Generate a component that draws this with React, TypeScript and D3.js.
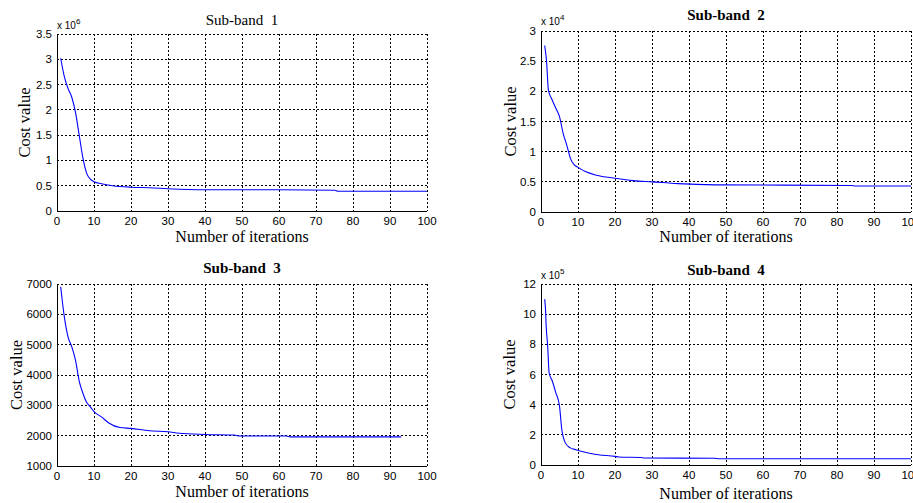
import React from "react";
import * as d3 from "d3";

// ---- data ----
const iter1 = [1, 2, 3, 4, 5, 6, 7, 8, 9, 10, 12, 15, 20, 25, 30, 40, 50, 60, 75, 76, 100];
const cost1 = [3.02, 2.65, 2.42, 2.25, 1.95, 1.5, 1.05, 0.75, 0.63, 0.58, 0.54, 0.5, 0.47, 0.46, 0.44, 0.42, 0.42, 0.42, 0.41, 0.39, 0.39]; // x 1e6

const iter2 = [1, 1.5, 2, 3, 4, 5, 6, 7, 8, 9, 10, 12, 15, 20, 25, 30, 37, 47, 84, 85, 100];
const cost2 = [2.76, 2.5, 2.02, 1.86, 1.72, 1.58, 1.3, 1.1, 0.88, 0.78, 0.74, 0.67, 0.61, 0.56, 0.52, 0.5, 0.47, 0.45, 0.44, 0.43, 0.43]; // x 1e4

const iter3 = [1, 2, 3, 4, 5, 6, 7, 8, 9, 10, 12, 14, 17, 20, 25, 30, 33, 40, 48, 49, 62, 63, 93];
const cost3 = [6910, 5900, 5250, 4930, 4490, 3800, 3400, 3100, 2950, 2790, 2620, 2420, 2270, 2240, 2160, 2130, 2080, 2040, 2020, 1990, 1990, 1960, 1960];

const iter4 = [1, 1.2, 1.4, 1.8, 2.2, 3, 4, 5, 5.6, 6.5, 7.8, 9.6, 12.8, 15.5, 20, 21, 27, 28, 47, 48, 100];
const cost4 = [11.0, 10.4, 9.2, 7.9, 6.1, 5.6, 4.8, 3.9, 2.4, 1.5, 1.15, 1.0, 0.8, 0.68, 0.57, 0.53, 0.5, 0.46, 0.45, 0.41, 0.41]; // x 1e5

const xTicks = [0, 10, 20, 30, 40, 50, 60, 70, 80, 90, 100];
const yTicks1 = [0, 0.5, 1, 1.5, 2, 2.5, 3, 3.5];
const yTicks2 = [0, 0.5, 1, 1.5, 2, 2.5, 3];
const yTicks3 = [1000, 2000, 3000, 4000, 5000, 6000, 7000];
const yTicks4 = [0, 2, 4, 6, 8, 10, 12];

const titles = ["Sub-band  1", "Sub-band  2", "Sub-band  3", "Sub-band  4"];
const xLabel = "Number of iterations";
const yLabel = "Cost value";

type PanelProps = {
  box: { l: number; r: number; t: number; b: number };
  xs: number[];
  ys: number[];
  yTicks: number[];
  title: string;
  bold: boolean;
  titleY: number;
  xLabelY: number;
  yLabelX: number;
  exp?: string;
  expY?: number;
};

const SANS = "Arial, 'Liberation Sans', sans-serif";
const SERIF = "'Times New Roman', 'Liberation Serif', serif";

function Panel(p: PanelProps) {
  const { box } = p;
  const x = d3.scaleLinear().domain([0, 100]).range([box.l, box.r]);
  const y = d3
    .scaleLinear()
    .domain([p.yTicks[0], p.yTicks[p.yTicks.length - 1]])
    .range([box.b, box.t]);
  const pts = p.xs.map((v, i) => [v, p.ys[i]] as [number, number]);
  const line = d3
    .line<[number, number]>()
    .x((d) => x(d[0]))
    .y((d) => y(d[1]))
    .curve(d3.curveMonotoneX);
  const cx = (box.l + box.r) / 2;
  const cy = (box.t + box.b) / 2;
  return (
    <g>
      {xTicks.slice(1, -1).map((t) => (
        <line key={"vx" + t} x1={x(t)} x2={x(t)} y1={box.t} y2={box.b} stroke="#000" strokeWidth={1} strokeDasharray="2,2" shapeRendering="crispEdges" />
      ))}
      {p.yTicks.slice(1, -1).map((t) => (
        <line key={"hy" + t} x1={box.l} x2={box.r} y1={y(t)} y2={y(t)} stroke="#000" strokeWidth={1} strokeDasharray="2,2" shapeRendering="crispEdges" />
      ))}
      <line x1={box.l} x2={box.r} y1={box.t} y2={box.t} stroke="#000" strokeDasharray="2,2" shapeRendering="crispEdges" />
      <line x1={box.r} x2={box.r} y1={box.t} y2={box.b} stroke="#000" strokeDasharray="2,2" shapeRendering="crispEdges" />
      <line x1={box.l} x2={box.r} y1={box.b} y2={box.b} stroke="#000" shapeRendering="crispEdges" />
      <line x1={box.l} x2={box.l} y1={box.t} y2={box.b} stroke="#000" shapeRendering="crispEdges" />
      <path d={line(pts) || ""} fill="none" stroke="#0000ff" strokeWidth={1.1} />
      {xTicks.map((t) => (
        <text key={"xt" + t} x={x(t)} y={box.b + 14} textAnchor="middle" fontFamily={SANS} fontSize={11.5} fill="#000">
          {t}
        </text>
      ))}
      {p.yTicks.map((t) => (
        <text key={"yt" + t} x={box.l - 5} y={y(t) + 4} textAnchor="end" fontFamily={SANS} fontSize={11.5} fill="#000">
          {t}
        </text>
      ))}
      {p.exp && (
        <text x={box.l} y={p.expY} fontFamily={SANS} fontSize={10} fill="#000">
          x 10<tspan dy={-5} fontSize={8}>{p.exp}</tspan>
        </text>
      )}
      <text x={cx} y={p.titleY} textAnchor="middle" fontFamily={SERIF} fontSize={15} fontWeight={p.bold ? "bold" : "normal"} style={{ whiteSpace: "pre" }} fill="#000">
        {p.title}
      </text>
      <text x={cx} y={p.xLabelY} textAnchor="middle" fontFamily={SERIF} fontSize={16} fill="#000">
        {xLabel}
      </text>
      <text transform={`translate(${p.yLabelX},${cy}) rotate(-90)`} textAnchor="middle" fontFamily={SERIF} fontSize={16.5} fill="#000">
        {yLabel}
      </text>
    </g>
  );
}

export default function App() {
  return (
    <svg width={913} height={503} style={{ position: "absolute", left: 0, top: 0, background: "#fff" }}>
      <rect width={913} height={503} fill="#fff" />
      <Panel box={{ l: 57, r: 427, t: 34, b: 211 }} xs={iter1} ys={cost1} yTicks={yTicks1} title={titles[0]} bold={false} titleY={25} xLabelY={242} yLabelX={30} exp="6" expY={29} />
      <Panel box={{ l: 541, r: 911, t: 31, b: 212 }} xs={iter2} ys={cost2} yTicks={yTicks2} title={titles[1]} bold={true} titleY={20} xLabelY={242} yLabelX={516} exp="4" expY={25} />
      <Panel box={{ l: 57, r: 427, t: 284, b: 466 }} xs={iter3} ys={cost3} yTicks={yTicks3} title={titles[2]} bold={true} titleY={273} xLabelY={497} yLabelX={22} />
      <Panel box={{ l: 541, r: 911, t: 284, b: 465 }} xs={iter4} ys={cost4} yTicks={yTicks4} title={titles[3]} bold={true} titleY={275} xLabelY={499} yLabelX={515} exp="5" expY={279} />
    </svg>
  );
}
